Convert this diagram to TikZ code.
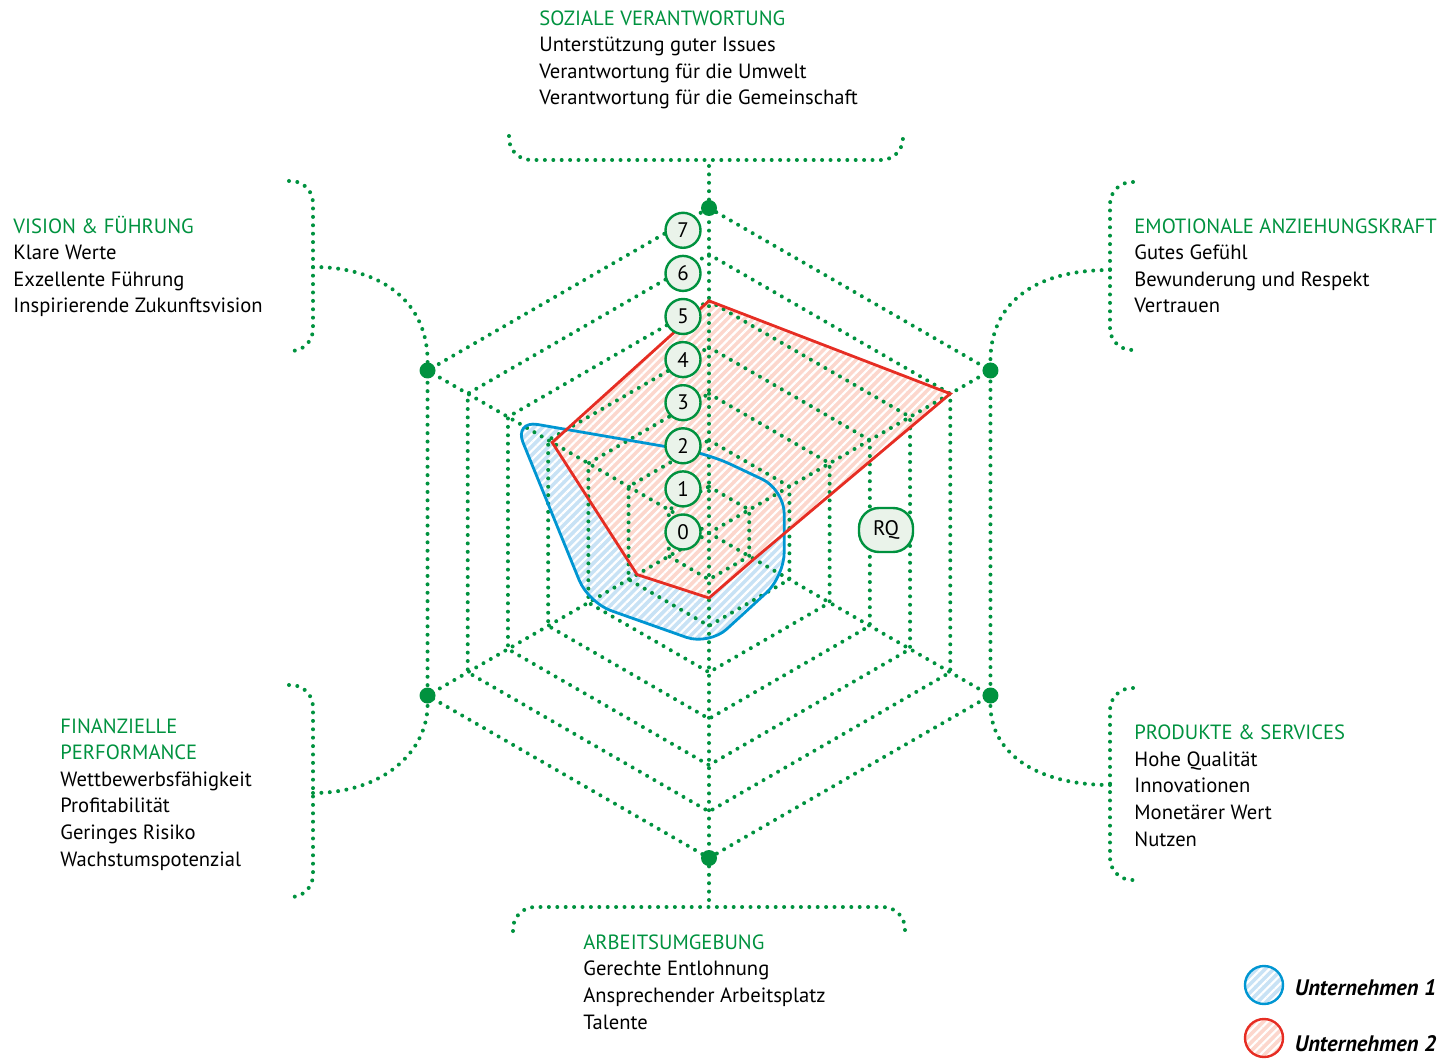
\documentclass[tikz,border=0pt]{standalone}
\usepackage{fontspec}
\setmainfont{PT Sans}
\usepackage{xcolor}
\usetikzlibrary{positioning,patterns.meta}

\definecolor{rqgreen}{RGB}{0,146,63}
\definecolor{lblfill}{RGB}{234,243,234}
\definecolor{uablue}{RGB}{0,150,210}
\definecolor{uafill}{RGB}{200,226,245}
\definecolor{ubred}{RGB}{230,45,35}
\definecolor{ubfill}{RGB}{252,215,205}

\newcommand{\kat}[1]{\textcolor{rqgreen}{#1}}

\tikzset{
  dotline/.style={draw=rqgreen, line width=2pt, line cap=round, dash pattern=on 0pt off 4.2pt},
  vdot/.style={circle, fill=rqgreen, inner sep=0pt, minimum size=8pt},
  numlbl/.style={circle, draw=rqgreen, line width=1.2pt, fill=lblfill, minimum size=17.5pt, inner sep=0pt, font=\fontsize{10.5}{12}\selectfont},
  cat/.style={anchor=base west, align=left, inner sep=0pt, font=\fontsize{10.3}{13.3}\selectfont},
  hatch/.style={postaction={pattern={Lines[angle=45,distance=3pt,line width=1.1pt]}, pattern color=white}},
  lgcirc/.style={circle, minimum size=19pt, inner sep=0pt},
  lgtext/.style={inner sep=0pt, font=\fontsize{11.2}{13}\selectfont\bfseries\itshape},
}

\begin{document}
\begin{tikzpicture}[x=0.5pt, y=-0.5pt]
\useasboundingbox (0,0) rectangle (1440,1059);

% Netz
\begin{scope}[shift={(709,533)}, y=0.5pt]
\def\u{46.43}
\coordinate (ctr) at (0,0);
% Flaechen
\path[fill=uafill, hatch, rounded corners=12pt]
  (90:1.7*\u) -- (30:1.87*\u) -- (-30:1.87*\u) -- (-90:2.42*\u)
  -- (210:3.0*\u) -- (150:4.85*\u) -- cycle;
\path[fill=ubfill, hatch]
  (90:5*\u) -- (30:6*\u) -- (-30:1.12*\u) -- (-90:1.4*\u)
  -- (210:1.79*\u) -- (150:3.9*\u) -- cycle;
% Ringe
\foreach \k in {1,...,7}
  \draw[dotline] (90:\k*\u) -- (30:\k*\u) -- (-30:\k*\u) -- (-90:\k*\u)
    -- (210:\k*\u) -- (150:\k*\u) -- cycle;
\node[vdot] (dS) at (90:7*\u) {};
\node[vdot] (dE) at (30:7*\u) {};
\node[vdot] (dP) at (-30:7*\u) {};
\node[vdot] (dA) at (-90:7*\u) {};
\node[vdot] (dF) at (210:7*\u) {};
\node[vdot] (dV) at (150:7*\u) {};
\foreach \d in {dS,dE,dP,dA,dF,dV}
  \draw[dotline] (ctr) -- (\d);
% Linien
\draw[uablue, line width=1.4pt, rounded corners=12pt]
  (90:1.7*\u) -- (30:1.87*\u) -- (-30:1.87*\u) -- (-90:2.42*\u)
  -- (210:3.0*\u) -- (150:4.85*\u) -- cycle;
\draw[ubred, line width=1.4pt, line join=miter]
  (90:5*\u) -- (30:6*\u) -- (-30:1.12*\u) -- (-90:1.4*\u)
  -- (210:1.79*\u) -- (150:3.9*\u) -- cycle;
\end{scope}

% Skala
\foreach \k in {0,...,7}
  \node[numlbl] (n\k) at (683,{532-43.1*\k}) {\k};
\node[numlbl, rectangle, rounded corners=10pt, minimum width=27pt, minimum height=22pt] (rq) at (886,530) {RQ};

% Klammern
\coordinate (bS) at (709,160);
\coordinate (bV) at (313,267);
\coordinate (bE) at (1110,270);
\coordinate (bP) at (1110,785);
\coordinate (bF) at (313,793);
\coordinate (bA) at (709,907);
\draw[dotline, rounded corners=11pt] (509,136) |- (bS) -| (903,136);
\draw[dotline, rounded corners=11pt] (289,181) -| (bV) |- (289,351);
\draw[dotline, rounded corners=11pt] (1133,182) -| (bE) |- (1133,350);
\draw[dotline, rounded corners=11pt] (1133,688) -| (bP) |- (1133,880);
\draw[dotline, rounded corners=11pt] (289,685) -| (bF) |- (289,897);
\draw[dotline, rounded corners=11pt] (513,931) |- (bA) -| (905,931);
\draw[dotline] (dS) -- (bS);
\draw[dotline] (dA) -- (bA);
\draw[dotline] (bV) .. controls (385,267) and (428,305) .. (dV);
\draw[dotline] (bE) .. controls (1032,270) and (990,305) .. (dE);
\draw[dotline] (bP) .. controls (1032,785) and (990,750) .. (dP);
\draw[dotline] (bF) .. controls (385,793) and (428,750) .. (dF);

% Texte
\node[cat] (soz) at (539,105) {\kat{SOZIALE VERANTWORTUNG}\\Unterstützung guter Issues\\Verantwortung für die Umwelt\\Verantwortung für die Gemeinschaft};
\node[cat] (vis) at (13,313) {\kat{VISION \& FÜHRUNG}\\Klare Werte\\Exzellente Führung\\Inspirierende Zukunftsvision};
\node[cat] (emo) at (1134,313) {\kat{EMOTIONALE ANZIEHUNGSKRAFT}\\Gutes Gefühl\\Bewunderung und Respekt\\Vertrauen};
\node[cat] (fin) at (60,866) {\kat{FINANZIELLE}\\\kat{PERFORMANCE}\\Wettbewerbsfähigkeit\\Profitabilität\\Geringes Risiko\\Wachstumspotenzial};
\node[cat] (pro) at (1134,846) {\kat{PRODUKTE \& SERVICES}\\Hohe Qualität\\Innovationen\\Monetärer Wert\\Nutzen};
\node[cat] (arb) at (583,1029) {\kat{ARBEITSUMGEBUNG}\\Gerechte Entlohnung\\Ansprechender Arbeitsplatz\\Talente};

% Legende
\node[lgcirc, fill=uafill, hatch, postaction={draw=uablue, line width=1.2pt}] (lg1) at (1264,985) {};
\node[lgcirc, fill=ubfill, hatch, postaction={draw=ubred, line width=1.2pt}] (lg2) at (1264,1038) {};
\node[lgtext, right=5.5pt of lg1, yshift=-1.5pt] (lt1) {Unternehmen 1};
\node[lgtext, right=5.5pt of lg2, yshift=-3pt] (lt2) {Unternehmen 2};
\end{tikzpicture}
\end{document}
